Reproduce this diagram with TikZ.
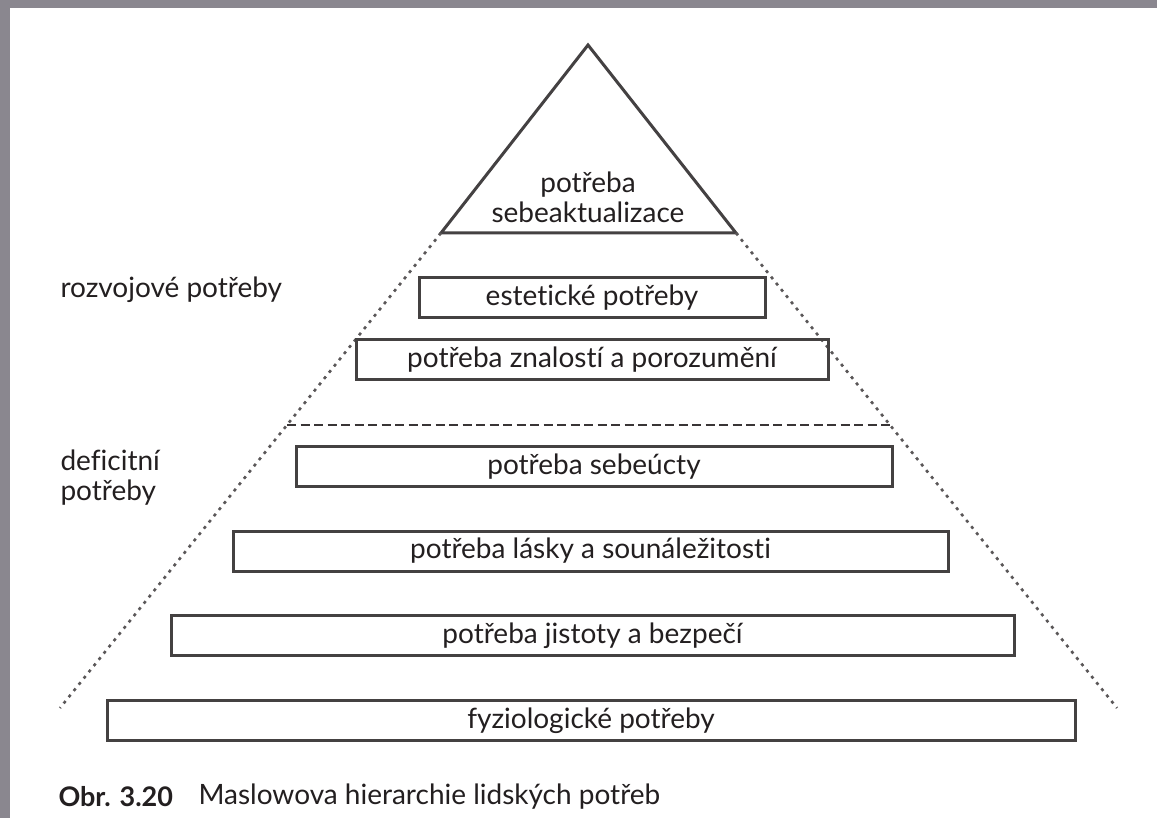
\documentclass[tikz,border=0pt]{standalone}
\usepackage{fontspec}
\setmainfont[Ligatures=NoCommon]{Lato}
\usetikzlibrary{positioning,calc}

\definecolor{frame}{RGB}{138,135,143}
\definecolor{ink}{RGB}{35,31,32}

\begin{document}
\begin{tikzpicture}[x=1pt,y=-1pt,
    every node/.style={text=ink,font=\fontsize{28}{30}\selectfont},
    level/.style={draw=ink!85,line width=3pt,minimum height=40pt,inner sep=0pt},
    side/.style={draw=ink!75,line width=2.6pt,dash pattern=on 3pt off 5pt},
    split/.style={draw=ink!90,line width=2.6pt,dash pattern=on 9pt off 4.5pt}
   ]
  % frame
  \fill[frame] (0,0) rectangle (1157,818);
  \fill[white] (10,8) rectangle (1157,818);
  \useasboundingbox (0,0) rectangle (1157,818);

  % top of the pyramid
  \coordinate (apex) at (588,45);
  \coordinate (baseL) at (441,233);
  \coordinate (baseR) at (736,233);
  \coordinate (footL) at (60,708);
  \coordinate (footR) at (1117,708);
  \draw[ink!85,line width=3pt,line join=miter] (apex) -- (baseL) -- (baseR) -- cycle;
  \node[align=center] (self) at (588,197) {potřeba\\sebeaktualizace};

  \draw[side] (baseL) -- (footL);
  \draw[side] (baseR) -- (footR);

  % levels
  \node[level,minimum width=346pt] (est) at (592,298) {estetické potřeby};
  \node[level,minimum width=472pt] (zna) at (592,359.5) {potřeba znalostí a porozumění};
  \node[level,minimum width=596pt] (seb) at (594,466.5) {potřeba sebeúcty};
  \node[level,minimum width=715pt] (las) at (590.5,551) {potřeba lásky a sounáležitosti};
  \node[level,minimum width=843pt] (jis) at (592.5,635.5) {potřeba jistoty a bezpečí};
  \node[level,minimum width=968pt] (fyz) at (591,720.5) {fyziologické potřeby};

  % growth / deficit border
  \coordinate (cutL) at ($(baseL)!0.404!(footL)$);
  \coordinate (cutR) at ($(baseR)!0.404!(footR)$);
  \draw[split] (cutL) -- (cutR);

  \node[anchor=west] (grow) at (57,290) {rozvojové potřeby};
  \node[anchor=west,align=left] (defic) at (57,478) {deficitní\\potřeby};

  % caption
  \node[anchor=west,font=\fontsize{27}{30}\selectfont\bfseries] (obr) at (55,797) {Obr. 3.20};
  \node[anchor=west] (capt) at (195,797) {Maslowova hierarchie lidských potřeb};
\end{tikzpicture}
\end{document}
